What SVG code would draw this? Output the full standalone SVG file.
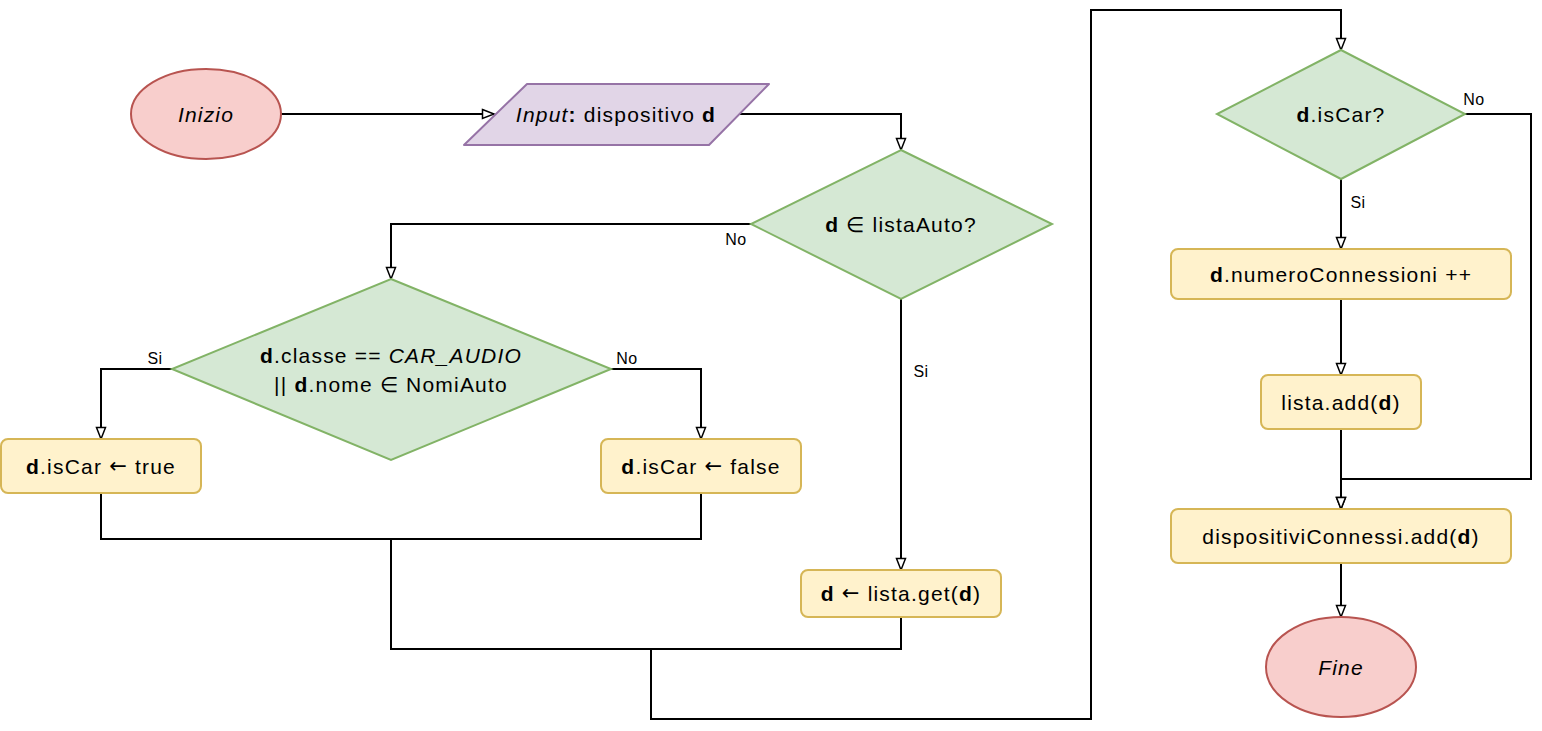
<svg xmlns="http://www.w3.org/2000/svg" width="1542" height="731" viewBox="0 0 1542 731">
<defs>
<marker id="arr" markerUnits="userSpaceOnUse" markerWidth="16" markerHeight="14" refX="13" refY="6" orient="auto">
<path d="M1.5,1.5 L13,6 L1.5,10.5 Z" fill="#ffffff" stroke="#000000" stroke-width="1.5"/>
</marker>
</defs>
<style>
.term{fill:#f8cecc;stroke:#b85450;stroke-width:2}
.io{fill:#e1d5e7;stroke:#9673a6;stroke-width:2}
.dec{fill:#d5e8d4;stroke:#82b366;stroke-width:2}
.proc{fill:#fff2cc;stroke:#d6b656;stroke-width:2}
.t{font-family:"Liberation Sans",Arial,sans-serif;font-size:21px;letter-spacing:1.2px;fill:#000;text-anchor:middle;dominant-baseline:central}
.lbl{font-family:"Liberation Sans",Arial,sans-serif;font-size:16px;letter-spacing:0.5px;fill:#000;text-anchor:middle;dominant-baseline:central}
.ar{font-family:"DejaVu Sans",sans-serif}
.c{fill:none;stroke:#000;stroke-width:2}
.ca{fill:none;stroke:#000;stroke-width:2;marker-end:url(#arr)}
</style>
<rect width="1542" height="731" fill="#ffffff"/>
<g id="connectors">
<path class="ca" d="M281,114 H494"/>
<path class="ca" d="M732,114 H901 V150"/>
<path class="ca" d="M751,224 H391 V279"/>
<path class="ca" d="M172,369 H101 V439"/>
<path class="ca" d="M611,369 H701 V439"/>
<path class="ca" d="M901,299 V570"/>
<path class="c" d="M101,493 V539 H401"/>
<path class="c" d="M701,493 V539 H391 V649 H651"/>
<path class="c" d="M901,617 V649 H551"/>
<path class="ca" d="M651,649 V719 H1091 V10 H1341 V50"/>
<path class="ca" d="M1341,179 V249"/>
<path class="ca" d="M1341,299 V375"/>
<path class="ca" d="M1341,429 V509"/>
<path class="ca" d="M1465,114 H1531 V479 H1341 V509"/>
<path class="ca" d="M1341,563 V617"/>
<text class="lbl" x="736" y="239">No</text>
<text class="lbl" x="155" y="358">Si</text>
<text class="lbl" x="627" y="358">No</text>
<text class="lbl" x="921" y="371">Si</text>
<text class="lbl" x="1474" y="99">No</text>
<text class="lbl" x="1358" y="202">Si</text>
</g>
<g id="inizio">
<ellipse class="term" cx="206" cy="114" rx="75" ry="45"/>
<text class="t" x="206" y="114" font-style="italic">Inizio</text>
</g>
<g id="input">
<path class="io" d="M527,84 H769 L709,145 H464 Z" stroke-linejoin="round"/>
<text class="t" x="616" y="114"><tspan font-style="italic">Input</tspan><tspan font-weight="bold">:</tspan> dispositivo <tspan font-weight="bold">d</tspan></text>
</g>
<g id="dec-listaAuto">
<path class="dec" d="M901,150 L1052,224 L901,299 L751,224 Z"/>
<text class="t" x="901" y="224"><tspan font-weight="bold">d</tspan> ∈ listaAuto?</text>
</g>
<g id="dec-classe">
<path class="dec" d="M391,279 L611,369 L391,460 L172,369 Z"/>
<text class="t" x="391" y="355"><tspan font-weight="bold">d</tspan>.classe == <tspan font-style="italic">CAR_AUDIO</tspan></text>
<text class="t" x="391" y="384">|| <tspan font-weight="bold">d</tspan>.nome ∈ NomiAuto</text>
</g>
<g id="iscar-true">
<rect class="proc" x="1" y="439" width="200" height="54" rx="7"/>
<text class="t" x="101" y="466"><tspan font-weight="bold">d</tspan>.isCar <tspan class="ar">←</tspan> true</text>
</g>
<g id="iscar-false">
<rect class="proc" x="601" y="439" width="200" height="54" rx="7"/>
<text class="t" x="701" y="466"><tspan font-weight="bold">d</tspan>.isCar <tspan class="ar">←</tspan> false</text>
</g>
<g id="lista-get">
<rect class="proc" x="801" y="570" width="200" height="47" rx="7"/>
<text class="t" x="901" y="593"><tspan font-weight="bold">d</tspan> <tspan class="ar">←</tspan> lista.get(<tspan font-weight="bold">d</tspan>)</text>
</g>
<g id="dec-iscar">
<path class="dec" d="M1341,50 L1465,114 L1341,179 L1217,114 Z"/>
<text class="t" x="1341" y="114"><tspan font-weight="bold">d</tspan>.isCar?</text>
</g>
<g id="numero">
<rect class="proc" x="1171" y="249" width="340" height="50" rx="7"/>
<text class="t" x="1341" y="274"><tspan font-weight="bold">d</tspan>.numeroConnessioni ++</text>
</g>
<g id="lista-add">
<rect class="proc" x="1261" y="375" width="160" height="54" rx="7"/>
<text class="t" x="1341" y="402">lista.add(<tspan font-weight="bold">d</tspan>)</text>
</g>
<g id="dispositivi">
<rect class="proc" x="1171" y="509" width="340" height="54" rx="7"/>
<text class="t" x="1341" y="536">dispositiviConnessi.add(<tspan font-weight="bold">d</tspan>)</text>
</g>
<g id="fine">
<ellipse class="term" cx="1341" cy="667" rx="75" ry="50"/>
<text class="t" x="1341" y="667" font-style="italic">Fine</text>
</g>
</svg>
